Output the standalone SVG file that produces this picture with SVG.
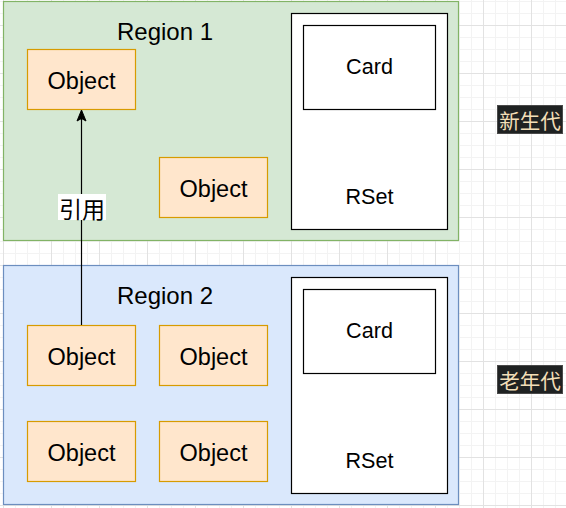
<svg xmlns="http://www.w3.org/2000/svg" width="566" height="508" viewBox="0 0 566 508">
<defs>
<pattern id="grid" patternUnits="userSpaceOnUse" x="3" y="25" width="48" height="48">
<rect x="0" y="0" width="48" height="48" fill="#ffffff"/>
<rect x="12" y="0" width="1" height="48" fill="#f3f3f3"/>
<rect x="24" y="0" width="1" height="48" fill="#f3f3f3"/>
<rect x="36" y="0" width="1" height="48" fill="#f3f3f3"/>
<rect x="0" y="12" width="48" height="1" fill="#f3f3f3"/>
<rect x="0" y="24" width="48" height="1" fill="#f3f3f3"/>
<rect x="0" y="36" width="48" height="1" fill="#f3f3f3"/>
<rect x="0" y="0" width="1" height="48" fill="#e2e2e2"/>
<rect x="0" y="0" width="48" height="1" fill="#e2e2e2"/>
</pattern>
<style>
.txt{font-family:"Liberation Sans",Arial,sans-serif;fill:#000;text-anchor:middle}
.cjk{font-family:"Noto Sans CJK SC","Liberation Sans",sans-serif;text-anchor:middle;dominant-baseline:central}
.obj{fill:#ffe6cc;stroke:#d79b00;stroke-width:1.2}
.box{fill:#ffffff;stroke:#000;stroke-width:1.2}
.tag{fill:#1f2222;stroke:#4a4a4a;stroke-width:1}
</style>
</defs>
<rect width="566" height="508" fill="url(#grid)"/>

<g id="region1">
<rect x="3.5" y="1.5" width="455" height="239" fill="#d5e8d4" stroke="#82b366" stroke-width="1.2"/>
<text class="txt" x="165" y="40" font-size="24">Region 1</text>
</g>
<g id="region2">
<rect x="3.5" y="265.5" width="455" height="239" fill="#dae8fc" stroke="#6c8ebf" stroke-width="1.2"/>
<text class="txt" x="165" y="304" font-size="24">Region 2</text>
</g>

<g id="r1-obj1"><rect class="obj" x="27.5" y="49.5" width="108" height="60"/><text class="txt" x="81.5" y="89" font-size="23.5">Object</text></g>
<g id="r1-obj2"><rect class="obj" x="159.5" y="157.5" width="108" height="60"/><text class="txt" x="213.5" y="197" font-size="23.5">Object</text></g>

<g id="r1-rset"><rect class="box" x="291.5" y="13.5" width="156" height="216"/><text class="txt" x="369.5" y="204" font-size="21.6">RSet</text></g>
<g id="r1-card"><rect class="box" x="303.5" y="25.5" width="132" height="84"/><text class="txt" x="369.5" y="73.5" font-size="21.6">Card</text></g>

<g id="r2-obj1"><rect class="obj" x="27.5" y="325.5" width="108" height="60"/><text class="txt" x="81.5" y="365" font-size="23.5">Object</text></g>
<g id="r2-obj2"><rect class="obj" x="159.5" y="325.5" width="108" height="60"/><text class="txt" x="213.5" y="365" font-size="23.5">Object</text></g>
<g id="r2-obj3"><rect class="obj" x="27.5" y="421.5" width="108" height="60"/><text class="txt" x="81.5" y="461" font-size="23.5">Object</text></g>
<g id="r2-obj4"><rect class="obj" x="159.5" y="421.5" width="108" height="60"/><text class="txt" x="213.5" y="461" font-size="23.5">Object</text></g>

<g id="r2-rset"><rect class="box" x="291.5" y="277.5" width="156" height="216"/><text class="txt" x="369.5" y="468" font-size="21.6">RSet</text></g>
<g id="r2-card"><rect class="box" x="303.5" y="289.5" width="132" height="84"/><text class="txt" x="369.5" y="337.5" font-size="21.6">Card</text></g>

<g id="connectors">
<line x1="81.5" y1="325" x2="81.5" y2="118" stroke="#000" stroke-width="1.2"/>
<path d="M81.5,110 L86,121 L81.5,118.5 L77,121 Z" fill="#000" stroke="#000" stroke-width="1"/>
<rect x="58" y="194" width="48" height="26" fill="#ffffff"/>
<text class="cjk" x="82" y="207.5" font-size="23" fill="#000">引用</text>
</g>

<g id="tag-young"><rect class="tag" x="497.5" y="105.5" width="65" height="28"/><text class="cjk" x="530" y="119.5" font-size="20.5" fill="#f3dfb8">新生代</text></g>
<g id="tag-old"><rect class="tag" x="497.5" y="365.5" width="65" height="28"/><text class="cjk" x="530" y="379.5" font-size="20.5" fill="#f3dfb8">老年代</text></g>
</svg>
